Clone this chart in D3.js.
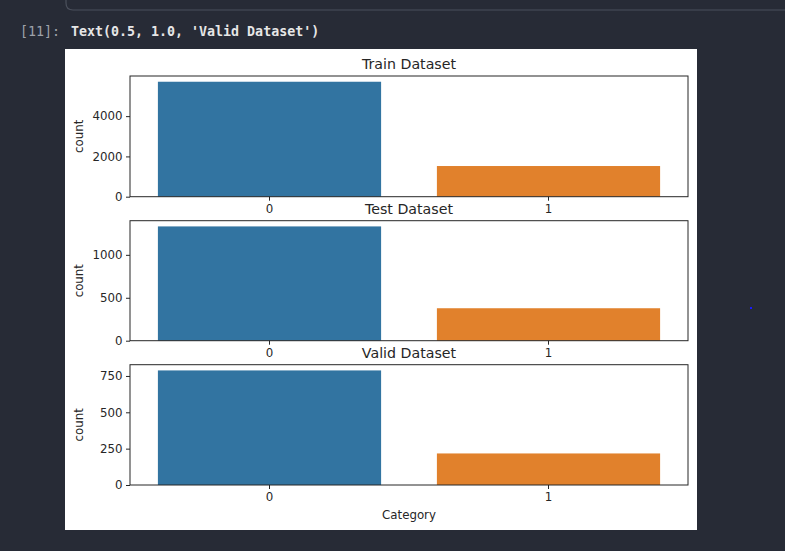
<!DOCTYPE html>
<html>
<head>
<meta charset="utf-8">
<script src="https://cdn.jsdelivr.net/npm/d3@7"></script>
<style>
  html, body { margin: 0; padding: 0; background: #272b36; }
  svg { display: block; }
</style>
</head>
<body>
<svg id="chart" width="785" height="551"></svg>
<script>
// ---- data ----
const categories = ["0", "1"];
const trainCounts = [5707, 1523];
const testCounts = [1331, 378];
const validCounts = [788, 217];
const panelTitles = ["Train Dataset", "Test Dataset", "Valid Dataset"];
const trainTicks = [0, 2000, 4000];
const testTicks = [0, 500, 1000];
const validTicks = [0, 250, 500, 750];
const barColors = ["#3274a1", "#e1812c"];
const cellPrompt = "[11]:";
const cellOutput = "Text(0.5, 1.0, 'Valid Dataset')";
const xLabel = "Category";
const yLabel = "count";

const panels = [
  { title: panelTitles[0], values: trainCounts, ticks: trainTicks, top: 76, bottom: 196.7 },
  { title: panelTitles[1], values: testCounts, ticks: testTicks, top: 220.7, bottom: 340.7 },
  { title: panelTitles[2], values: validCounts, ticks: validTicks, top: 364.7, bottom: 485 }
];

const svg = d3.select("#chart");
const font = "DejaVu Sans, sans-serif";
const ink = "#262626";

// notebook chrome
svg.append("path")
  .attr("d", "M66,-2 L66,3 Q66,10 73,10 L790,10")
  .attr("fill", "none").attr("stroke", "#4b505c").attr("stroke-width", 1.2);
svg.append("text").attr("x", 20).attr("y", 36)
  .attr("font-family", "DejaVu Sans Mono, monospace").attr("font-size", 13.3)
  .attr("fill", "#9ea2aa").text(cellPrompt);
svg.append("text").attr("x", 71).attr("y", 36)
  .attr("font-family", "DejaVu Sans Mono, monospace").attr("font-size", 13.3)
  .attr("font-weight", "bold")
  .attr("fill", "#e6e6e6").text(cellOutput);
svg.append("rect").attr("x", 750).attr("y", 307).attr("width", 2).attr("height", 2).attr("fill", "#1a1aff");

// figure background
svg.append("rect").attr("x", 65).attr("y", 49).attr("width", 632).attr("height", 481).attr("fill", "#ffffff");

const left = 130, right = 688;
const x = d3.scaleBand().domain(categories).range([left, right]).paddingInner(0.2).paddingOuter(0.1);

panels.forEach(p => {
  const g = svg.append("g");
  const y = d3.scaleLinear().domain([0, d3.max(p.values) * 1.05]).range([p.bottom, p.top]);

  g.selectAll("rect.bar").data(p.values).join("rect")
    .attr("class", "bar")
    .attr("x", (d, i) => x(categories[i]))
    .attr("width", x.bandwidth())
    .attr("y", d => y(d))
    .attr("height", d => y(0) - y(d))
    .attr("fill", (d, i) => barColors[i]);

  // y axis
  const ya = g.append("g").attr("transform", `translate(${left},0)`)
    .call(d3.axisLeft(y).tickValues(p.ticks).tickSize(4).tickPadding(3.5).tickFormat(d3.format("d")));
  ya.select(".domain").remove();
  ya.selectAll("line").attr("stroke", ink).attr("stroke-width", 1);
  ya.selectAll("text").attr("font-family", font).attr("font-size", 11.8).attr("fill", ink);

  // x axis
  const xa = g.append("g").attr("transform", `translate(0,${p.bottom})`)
    .call(d3.axisBottom(x).tickSize(4).tickPadding(3.5));
  xa.select(".domain").remove();
  xa.selectAll("line").attr("stroke", ink).attr("stroke-width", 1);
  xa.selectAll("text").attr("font-family", font).attr("font-size", 11.8).attr("fill", ink);

  // spines
  g.append("rect").attr("x", left).attr("y", p.top).attr("width", right - left).attr("height", p.bottom - p.top)
    .attr("fill", "none").attr("stroke", ink).attr("stroke-width", 1);

  // title
  g.append("text").attr("x", (left + right) / 2).attr("y", p.top - 7)
    .attr("text-anchor", "middle").attr("font-family", font).attr("font-size", 14.2)
    .attr("fill", ink).text(p.title);

  // y label
  const cy = (p.top + p.bottom) / 2;
  g.append("text").attr("transform", `translate(83,${cy}) rotate(-90)`)
    .attr("text-anchor", "middle").attr("font-family", font).attr("font-size", 11.8)
    .attr("fill", ink).text(yLabel);
});

svg.append("text").attr("x", (left + right) / 2).attr("y", 519)
  .attr("text-anchor", "middle").attr("font-family", font).attr("font-size", 11.8)
  .attr("fill", ink).text(xLabel);
</script>
</body>
</html>
